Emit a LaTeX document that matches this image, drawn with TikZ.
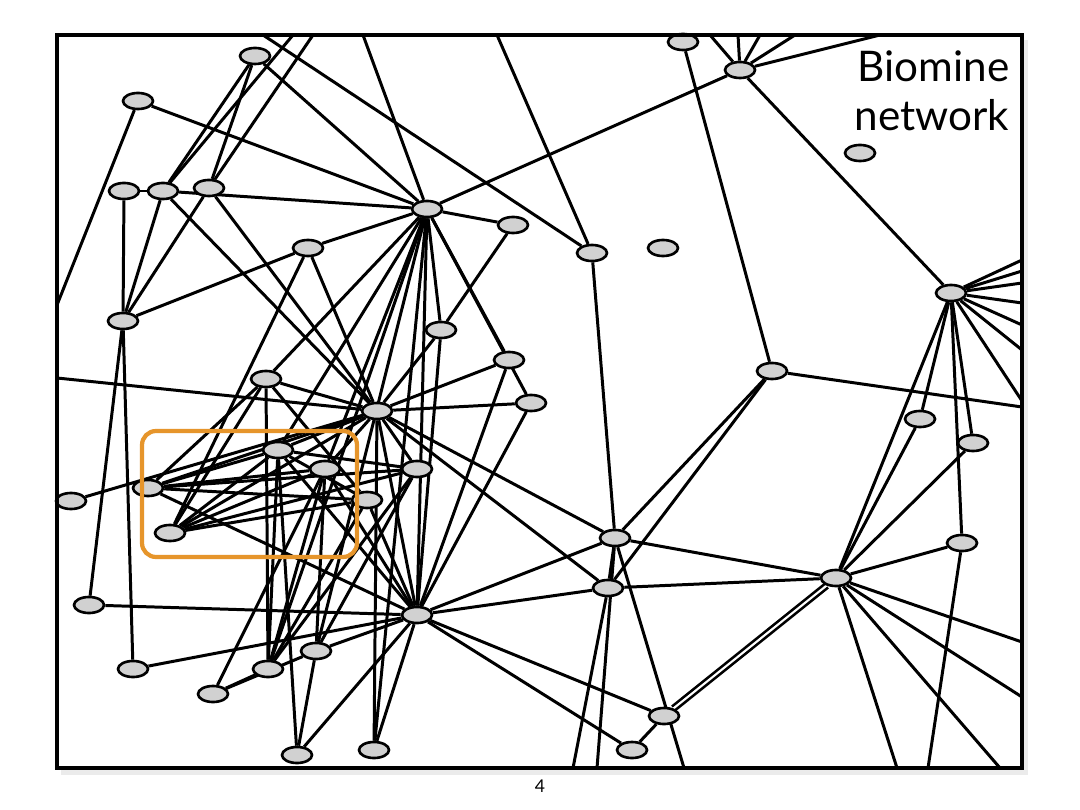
\documentclass[tikz,border=0pt]{standalone}
\usepackage{fontspec}
\setmainfont{Lato}
\usepackage{xcolor}
\definecolor{boxOrange}{HTML}{E6952B}
\usepackage{tikz}
\usetikzlibrary{shapes.geometric}
\pgfdeclarelayer{back}
\pgfdeclarelayer{links}
\pgfsetlayers{back,links,main}
\tikzset{
  gene/.style={ellipse, draw, line width=0.75pt, fill=black!18,
    minimum width=0.3cm, minimum height=0.16cm, inner sep=0pt},
  link/.style={line width=0.85pt},
}

\begin{document}
\begin{tikzpicture}[x=0.01cm, y=-0.01cm]
  \useasboundingbox (0,0) rectangle (1080,810);
  % frame with its shadow
  \begin{pgfonlayer}{back}
    \fill[black!8] (61,40) rectangle (1028,775);
    \fill[white] (57,35) rectangle (1022,768);
  \end{pgfonlayer}
  % free ends on the frame
  \foreach \n/\p in {t1/263, t2/293, t3/313, t4/363, t5/497,
                     t6/710, t7/738, t8/760, t9/795, t10/880}
    \coordinate (\n) at (\p,35);
  \foreach \n/\p in {b1/573, b2/597, b3/684, b4/897, b5/928, b6/1000}
    \coordinate (\n) at (\p,768);
  \foreach \n/\p in {l1/305, l2/378}
    \coordinate (\n) at (57,\p);
  \foreach \n/\p in {r1/260, r2/271, r3/283, r4/303, r5/325, r6/350,
                     r7/401, r8/407, r9/642, r10/697}
    \coordinate (\n) at (1022,\p);
  % genes
  \foreach \n/\xy in {v1/{255,56}, v2/{138,101}, v3/{124,191}, v4/{163,191},
      v5/{209,188}, v6/{427,209}, v7/{513,225}, v8/{308,248}, v9/{592,253},
      v10/{663,248}, v11/{683,42}, v12/{740,70}, v13/{860,153}, v14/{951,293},
      v15/{123,321}, v16/{441,330}, v17/{509,360}, v18/{531,403}, v19/{772,371},
      v20/{266,379}, v21/{377,411}, v22/{920,419}, v23/{973,443}, v24/{278,450},
      v25/{325,469}, v26/{417,469}, v27/{71,501}, v28/{148,488}, v29/{367,500},
      v30/{170,533}, v31/{615,538}, v32/{962,543}, v33/{836,578}, v34/{608,588},
      v35/{89,605}, v36/{417,615}, v37/{316,651}, v38/{268,669}, v39/{133,669},
      v40/{213,694}, v41/{664,716}, v42/{632,750}, v43/{297,755}, v44/{374,750}}
    \node[gene] (\n) at (\xy) {};
  % links
  \begin{pgfonlayer}{links}
    \foreach \a/\b in {v1/v4, v1/v5, v1/v6, t1/v9, t2/v4, t3/v5, t4/v6, t5/v9,
        v2/v6, v2/l1, v3/v4, v3/v15, v4/v6, v4/v21, v4/v15, v5/v21, v5/v15,
        v6/v7, v6/v8, v6/v12, v6/v16, v6/v17, v6/v18, v6/v20, v6/v24, v6/v25,
        v6/v38, v6/v37, v6/v44, v6/v36, v7/v16, v8/v15, v8/v30, v8/v21,
        v9/v31, v11/v19, v12/t6, v12/t7, v12/t8, v12/t9, v12/t10, v12/v14,
        v14/r1, v14/r2, v14/r3, v14/r4, v14/r5, v14/r6, v14/r7,
        v14/v22, v14/v23, v14/v32, v14/v33, v15/v35, v15/v39,
        v16/v21, v16/v36, v17/v21, v17/v36, v18/v21, v18/v36,
        v19/r8, v19/v31, v19/v34, v20/v21, v20/v38, v20/v30, v20/v28, v20/v29,
        l2/v21, v21/v28, v21/v30, v21/v24, v21/v25, v21/v26, v21/v31, v21/v34,
        v21/v44, v21/v36, v21/v27, v22/v33, v23/v33,
        v24/v28, v24/v30, v24/v29, v24/v38, v24/v43, v24/v36, v24/v26,
        v25/v28, v25/v30, v25/v37, v25/v38, v25/v40, v25/v36,
        v26/v28, v26/v37, v26/v30, v26/v38, v28/v29, v28/v36,
        v29/v30, v29/v36, v29/v38, v31/v33, v31/v34, v31/v36, v31/b2, v31/b3,
        v32/v33, v32/b5, v33/v34, v33/r9, v33/r10, v33/b4, v33/b6,
        v34/v36, v34/b1, v35/v36, v36/v37, v36/v39, v36/v41, v36/v42, v36/v43,
        v36/v44, v37/v40, v37/v43, v38/v40, v41/v42}
      \draw[link] (\a) -- (\b);
    % doubled link
    \draw[line width=0.75pt, double, double distance=0.6pt] (v33) -- (v41);
  \end{pgfonlayer}
  \draw[line width=1.1pt] (57,35) rectangle (1022,768);
  % highlighted group
  \draw[boxOrange, line width=1.2pt, rounded corners=0.14cm]
    (142,431) rectangle (357,557);
  \node[anchor=north east, align=right, inner sep=0pt,
    font=\fontsize{12}{13.8}\selectfont] (title) at (1010,50) {Biomine\\network};
  \node[font=\fontsize{5}{6}\selectfont] (pageno) at (540,786) {4};
\end{tikzpicture}
\end{document}
